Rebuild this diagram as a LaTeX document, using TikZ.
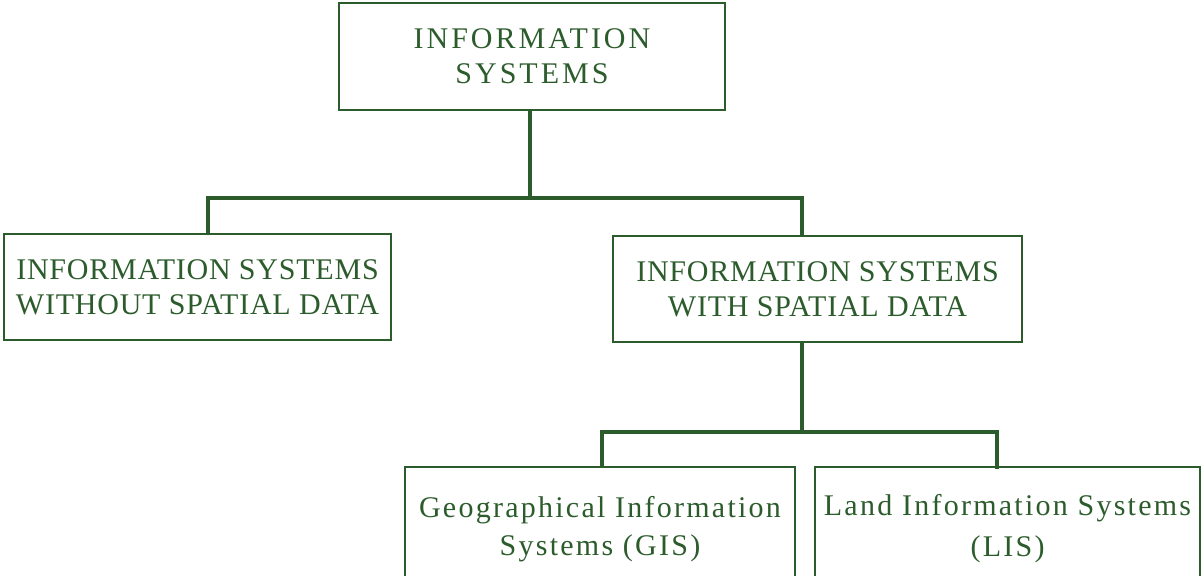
\documentclass[tikz,border=0pt]{standalone}
\usepackage{fontspec}
\setmainfont{Liberation Serif}
\usepackage{tikz}
\usetikzlibrary{positioning}
\definecolor{isgreen}{RGB}{44,92,44}
\tikzset{box/.style = {draw=isgreen, line width=1pt, text=isgreen, align=center,
                       inner sep=0, font=\fontsize{15}{17.5}\selectfont\addfontfeatures{LetterSpace=#1}},
         box/.default = 2.6}
\tikzset{link/.style = {draw=isgreen, line width=1.8pt}}
\tikzset{
  every picture/.style={
    x=0.5pt, y=-0.5pt,
  }
}

\begin{document}
\begin{tikzpicture}
        \useasboundingbox (0,0) rectangle (1203,575);
        \clip (0,0) rectangle (1203,575);
        \node[box=10, minimum width=193pt, minimum height=53.5pt] (info) at (532,56.5)
              {INFORMATION\\SYSTEMS};
        \node[box, minimum width=193.5pt, minimum height=53pt] (nospat) at (197.5,287)
              {INFORMATION SYSTEMS\\WITHOUT SPATIAL DATA};
        \node[box, minimum width=204.5pt, minimum height=53pt] (withspat) at (817.5,289)
              {INFORMATION SYSTEMS\\WITH SPATIAL DATA};
        \node[box=7.5, minimum width=195pt, minimum height=62pt] (gis) at (600,529)
              {Geographical Information\\[1.5pt]Systems (GIS)};
        \node[box=7.5, minimum width=192.5pt, minimum height=62pt] (lis) at (1007.5,529)
              {Land Information Systems\\[3pt](LIS)};
        \coordinate (split1) at (530,198);
        \coordinate (split2) at (802,432);
        \coordinate (nospatin) at (208,234);
        \coordinate (withspatin) at (802,236);
        \coordinate (gisin) at (602,467);
        \coordinate (lisin) at (997,469);
        \draw[link] (info.south -| split1) -- (split1);
        \draw[link] (nospatin) |- (split1) -| (withspatin);
        \draw[link] (withspat.south -| split2) -- (split2);
        \draw[link] (gisin) |- (split2) -| (lisin);
\end{tikzpicture}
\end{document}
